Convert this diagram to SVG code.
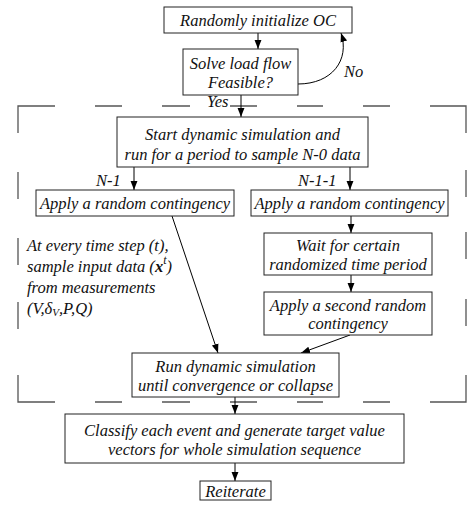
<svg xmlns="http://www.w3.org/2000/svg" width="468" height="506" viewBox="0 0 468 506">
<defs>
<marker id="ah" viewBox="0 0 10 10" refX="10" refY="5" markerWidth="9" markerHeight="9" markerUnits="userSpaceOnUse" orient="auto">
<path d="M0,1.2 L10,5 L0,8.8 z" fill="#000"/>
</marker>
</defs>
<style>
.box{fill:#fff;stroke:#222;stroke-width:1}
.t{font-family:"Liberation Serif","Times New Roman",serif;font-style:italic;font-size:16.5px;fill:#111;text-anchor:middle;dominant-baseline:central}
.tl{font-family:"Liberation Serif","Times New Roman",serif;font-style:italic;font-size:16.5px;fill:#111;dominant-baseline:central}
.c{fill:none;stroke:#000;stroke-width:1;marker-end:url(#ah)}
.d{fill:none;stroke:#555;stroke-width:1.3}
</style>
<rect width="468" height="506" fill="#fff"/>
<g id="dashed-frame">
<path class="d" d="M18,133 V106 H55 M95,106 H122 M162,106 H190 M230,106 H257 M297,106 H323 M363,106 H390 M430,106 H466 V133"/>
<path class="d" d="M18,375 V402 H55 M95,402 H122 M162,402 H190 M230,402 H257 M297,402 H323 M363,402 H390 M430,402 H466 V375"/>
<path class="d" d="M18,172 V199 M18,238 V265 M18,302 V329 M466,170 V197 M466,232 V259 M466,299 V326"/>
</g>
<g id="connectors">
<line class="c" x1="258" y1="33" x2="258" y2="49"/>
<path class="c" d="M298,84 C332,84 350,60 341,33"/>
<line class="c" x1="241" y1="95" x2="241" y2="117"/>
<line class="c" x1="134" y1="167" x2="134" y2="190"/>
<line class="c" x1="350" y1="167" x2="350" y2="190"/>
<line class="c" x1="351" y1="216" x2="351" y2="233"/>
<line class="c" x1="351" y1="275" x2="351" y2="292"/>
<line class="c" x1="172" y1="216" x2="218" y2="353"/>
<line class="c" x1="350" y1="335" x2="301" y2="353"/>
<line class="c" x1="235" y1="397" x2="235" y2="414"/>
<line class="c" x1="235" y1="463" x2="235" y2="481"/>
</g>
<g id="init">
<rect class="box" x="164" y="7" width="188" height="26"/>
<text class="t" x="258" y="20">Randomly initialize OC</text>
</g>
<g id="loadflow">
<rect class="box" x="183" y="49" width="115" height="46"/>
<text class="t" x="240.5" y="63">Solve load flow</text>
<text class="t" x="240.5" y="82">Feasible?</text>
</g>
<g id="label-no"><text class="tl" x="344" y="71">No</text></g>
<g id="label-yes"><text class="tl" x="207" y="101">Yes</text></g>
<g id="start">
<rect class="box" x="117" y="117" width="251" height="50"/>
<text class="t" x="242.5" y="134">Start dynamic simulation and</text>
<text class="t" x="242.5" y="154">run for a period to sample N-0 data</text>
</g>
<g id="label-n1"><text class="tl" x="96" y="180">N-1</text></g>
<g id="label-n11"><text class="tl" x="298" y="180">N-1-1</text></g>
<g id="apply-left">
<rect class="box" x="36" y="190" width="198" height="26"/>
<text class="t" x="135" y="203">Apply a random contingency</text>
</g>
<g id="apply-right">
<rect class="box" x="251" y="190" width="197" height="26"/>
<text class="t" x="349.5" y="203">Apply a random contingency</text>
</g>
<g id="wait">
<rect class="box" x="264" y="233" width="168" height="42"/>
<text class="t" x="348" y="245">Wait for certain</text>
<text class="t" x="348" y="264">randomized time period</text>
</g>
<g id="second">
<rect class="box" x="264" y="292" width="168" height="43"/>
<text class="t" x="348" y="305">Apply a second random</text>
<text class="t" x="348" y="323">contingency</text>
</g>
<g id="annotation">
<text class="tl" x="27" y="245">At every time step (t),</text>
<text class="tl" x="27" y="266">sample input data (<tspan font-weight="bold">x</tspan><tspan font-size="12" dy="-6">t</tspan><tspan dy="6">)</tspan></text>
<text class="tl" x="27" y="287">from measurements</text>
<text class="tl" x="27" y="308">(V,δ<tspan font-size="11" dy="4">V</tspan><tspan dy="-4">,P,Q)</tspan></text>
</g>
<g id="run">
<rect class="box" x="132" y="353" width="207" height="44"/>
<text class="t" x="235.5" y="366">Run dynamic simulation</text>
<text class="t" x="235.5" y="385">until convergence or collapse</text>
</g>
<g id="classify">
<rect class="box" x="65" y="414" width="339" height="49"/>
<text class="t" x="234.5" y="430">Classify each event and generate target value</text>
<text class="t" x="234.5" y="449">vectors for whole simulation sequence</text>
</g>
<g id="reiterate">
<rect class="box" x="200" y="481" width="71" height="19"/>
<text class="t" x="235.5" y="491">Reiterate</text>
</g>
</svg>
